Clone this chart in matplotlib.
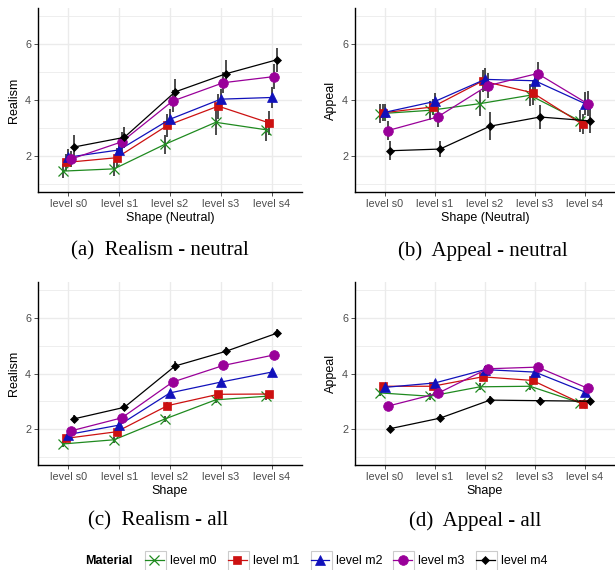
import matplotlib
matplotlib.use("Agg")
import matplotlib.pyplot as plt
from matplotlib.lines import Line2D
from matplotlib.patches import Rectangle
import numpy as np

plt.rcParams["font.family"] = ["Liberation Sans", "DejaVu Sans"]

shapes = ["level s0", "level s1", "level s2", "level s3", "level s4"]
materials = ["level m0", "level m1", "level m2", "level m3", "level m4"]

# mean ratings, one row per material (m0..m4), columns s0..s4
realism_neutral = [
    [1.45, 1.53, 2.41, 3.20, 2.93],
    [1.76, 1.93, 3.09, 3.78, 3.18],
    [1.95, 2.21, 3.31, 4.03, 4.09],
    [1.88, 2.50, 3.96, 4.62, 4.84],
    [2.31, 2.66, 4.29, 4.94, 5.44],
]
realism_neutral_err = [
    [0.25, 0.25, 0.35, 0.45, 0.40],
    [0.30, 0.35, 0.40, 0.45, 0.42],
    [0.30, 0.30, 0.35, 0.38, 0.38],
    [0.30, 0.35, 0.40, 0.38, 0.45],
    [0.42, 0.38, 0.45, 0.48, 0.42],
]
appeal_neutral = [
    [3.51, 3.63, 3.87, 4.17, 3.25],
    [3.54, 3.75, 4.68, 4.26, 3.13],
    [3.56, 3.95, 4.74, 4.69, 3.87],
    [2.90, 3.39, 4.51, 4.95, 3.87],
    [2.18, 2.24, 3.06, 3.39, 3.25],
]
appeal_neutral_err = [
    [0.35, 0.35, 0.45, 0.40, 0.40],
    [0.30, 0.30, 0.40, 0.45, 0.35],
    [0.30, 0.30, 0.40, 0.35, 0.40],
    [0.35, 0.35, 0.45, 0.40, 0.45],
    [0.35, 0.30, 0.50, 0.42, 0.42],
]
realism_all = [
    [1.46, 1.61, 2.36, 3.05, 3.18],
    [1.66, 1.90, 2.84, 3.25, 3.26],
    [1.80, 2.14, 3.30, 3.69, 4.05],
    [1.93, 2.40, 3.69, 4.29, 4.67],
    [2.36, 2.78, 4.27, 4.80, 5.45],
]
realism_all_err = [
    [0.10, 0.10, 0.12, 0.12, 0.12],
    [0.10, 0.10, 0.12, 0.12, 0.12],
    [0.10, 0.12, 0.12, 0.12, 0.12],
    [0.10, 0.12, 0.12, 0.12, 0.12],
    [0.15, 0.15, 0.18, 0.15, 0.15],
]
appeal_all = [
    [3.30, 3.18, 3.52, 3.54, 2.94],
    [3.54, 3.54, 3.88, 3.75, 2.90],
    [3.50, 3.66, 4.14, 4.05, 3.33],
    [2.82, 3.28, 4.17, 4.23, 3.47],
    [2.01, 2.39, 3.04, 3.02, 3.00],
]
appeal_all_err = [
    [0.12, 0.12, 0.12, 0.12, 0.12],
    [0.12, 0.12, 0.12, 0.12, 0.12],
    [0.12, 0.12, 0.12, 0.12, 0.12],
    [0.12, 0.12, 0.12, 0.12, 0.12],
    [0.12, 0.15, 0.15, 0.15, 0.12],
]

colors = ["#1f8a1f", "#cc1111", "#1111bb", "#990099", "#000000"]
markers = ["x", "s", "^", "o", "D"]
msizes = [6.5, 6.2, 6.8, 7, 4]

W, H = 615, 570
fig = plt.figure(figsize=(W / 100, H / 100), dpi=100)


def px_axes(l, t, r, b):
    return fig.add_axes([l / W, 1 - b / H, (r - l) / W, (b - t) / H])


def panel(ax, data, err, ylabel, xlabel):
    x = np.arange(len(shapes))
    for i in range(len(materials)):
        xo = x + (i - 2) * 0.05
        ax.errorbar(xo, data[i], yerr=err[i], fmt="none", ecolor="#1a1a1a",
                    elinewidth=1.1, capsize=0, zorder=2)
        ax.plot(xo, data[i], color=colors[i], lw=0.9, marker=markers[i],
                ms=msizes[i], mew=0.9 if markers[i] == "x" else 0.5,
                mec=colors[i], zorder=3)
    ax.set_xlim(-0.6, 4.6)
    ax.set_ylim(0.7, 7.3)
    ax.set_xticks(x)
    ax.set_xticklabels(shapes)
    ax.set_yticks([2, 4, 6])
    ax.set_yticks([1, 3, 5, 7], minor=True)
    ax.grid(True, which="major", color="#ebebeb", lw=1.0, zorder=0)
    ax.grid(True, which="minor", axis="y", color="#ebebeb", lw=0.6, zorder=0)
    ax.set_axisbelow(True)
    for s in ["top", "right"]:
        ax.spines[s].set_visible(False)
    for s in ["left", "bottom"]:
        ax.spines[s].set_linewidth(1.0)
    ax.tick_params(which="major", labelsize=7.8, labelcolor="#4d4d4d",
                   color="#333333", length=3, width=0.6, pad=2)
    ax.tick_params(which="minor", length=0)
    ax.set_ylabel(ylabel, fontsize=9, labelpad=4)
    ax.set_xlabel(xlabel, fontsize=9, labelpad=2)


ax_a = px_axes(38, 8, 302, 192)
ax_b = px_axes(355, 8, 615, 192)
ax_c = px_axes(38, 282, 302, 465)
ax_d = px_axes(355, 282, 615, 465)

panel(ax_a, realism_neutral, realism_neutral_err, "Realism", "Shape (Neutral)")
panel(ax_b, appeal_neutral, appeal_neutral_err, "Appeal", "Shape (Neutral)")
panel(ax_c, realism_all, realism_all_err, "Realism", "Shape")
panel(ax_d, appeal_all, appeal_all_err, "Appeal", "Shape")

cap = dict(fontsize=15, family=["Liberation Serif", "DejaVu Serif"],
           ha="center", va="center")
fig.text(160 / W, 1 - 251 / H, "(a)  Realism - neutral", **cap)
fig.text(483 / W, 1 - 251 / H, "(b)  Appeal - neutral", **cap)
fig.text(158 / W, 1 - 521 / H, "(c)  Realism - all", **cap)
fig.text(475 / W, 1 - 521 / H, "(d)  Appeal - all", **cap)

handles = [Line2D([], [], color=colors[i], lw=0.9, marker=markers[i],
                  ms=msizes[i], mew=0.9 if markers[i] == "x" else 0.5,
                  mec=colors[i]) for i in range(len(materials))]
fig.text(85 / W, 1 - 561 / H, "Material", fontsize=9, fontweight="bold",
         ha="left", va="center")
leg = fig.legend(handles, materials, loc="center left",
                 bbox_to_anchor=(145 / W, 1 - 561 / H), ncol=5, frameon=False,
                 fontsize=9, handlelength=1.5, handletextpad=0.5,
                 columnspacing=0.9, borderpad=0, borderaxespad=0)

fig.canvas.draw()
for t in leg.get_texts():
    bb = t.get_window_extent()
    cy = (bb.y0 + bb.y1) / 2
    x1 = bb.x0 - 4
    fig.patches.append(Rectangle((x1 - 21, cy - 10.5), 21, 21,
                                 transform=None, fill=False,
                                 edgecolor="#cccccc", lw=0.8, figure=fig))

fig.savefig("out.png", dpi=100)
